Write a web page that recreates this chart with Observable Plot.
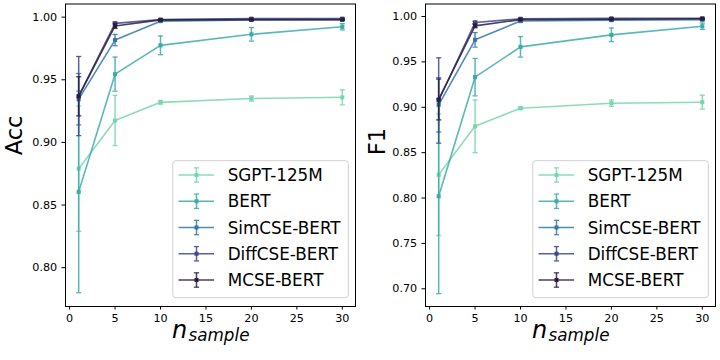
<!DOCTYPE html>
<html><head><meta charset="utf-8">
<script src="https://cdn.jsdelivr.net/npm/d3@7"></script>
<script src="https://cdn.jsdelivr.net/npm/@observablehq/plot@0.6"></script>
<style>
body{margin:0;background:#fff;}
#wrap{display:flex;width:720px;height:360px;overflow:hidden;}
svg{font-family:"DejaVu Sans";}
</style></head><body><div id="wrap"></div>
<script>
const nSample = [1, 5, 10, 20, 30];
const models = ["SGPT-125M", "BERT", "SimCSE-BERT", "DiffCSE-BERT", "MCSE-BERT"];
const colors = ["#78d6ae", "#3bacaa", "#3179a8", "#3e478c", "#2b1d3f"];

const accMean = [
  [0.879, 0.9175, 0.932, 0.935, 0.936],
  [0.8605, 0.9545, 0.9775, 0.9863, 0.9923],
  [0.9345, 0.9817, 0.9968, 0.9978, 0.998],
  [0.937, 0.995, 0.998, 0.9988, 0.9988],
  [0.9368, 0.993, 0.9978, 0.998, 0.998]
];
const accErr = [
  [0.05, 0.02, 0.0015, 0.002, 0.006],
  [0.0805, 0.0136, 0.0075, 0.0054, 0.0025],
  [0.0205, 0.0045, 0.0008, 0.0005, 0.0005],
  [0.0316, 0.0012, 0.0005, 0.0005, 0.0005],
  [0.0156, 0.002, 0.0006, 0.0005, 0.0005]
];
const f1Mean = [
  [0.8257, 0.879, 0.899, 0.9045, 0.9056],
  [0.802, 0.9332, 0.9666, 0.9798, 0.9893],
  [0.9027, 0.9743, 0.995, 0.996, 0.9965],
  [0.9075, 0.9934, 0.9975, 0.998, 0.998],
  [0.9086, 0.9897, 0.9966, 0.997, 0.9975]
];
const f1Err = [
  [0.067, 0.029, 0.0015, 0.0035, 0.0077],
  [0.1074, 0.0206, 0.0113, 0.0075, 0.0035],
  [0.030, 0.008, 0.0015, 0.001, 0.001],
  [0.047, 0.0015, 0.0008, 0.0005, 0.0005],
  [0.0225, 0.002, 0.0008, 0.0005, 0.0005]
];
const xTicks = [0, 5, 10, 15, 20, 25, 30];
const accTicks = [0.80, 0.85, 0.90, 0.95, 1.00];
const f1Ticks = [0.70, 0.75, 0.80, 0.85, 0.90, 0.95, 1.00];

function rows(mean, err) {
  return models.flatMap((m, i) => nSample.map((n, j) => ({model: m, idx: i, n, y: mean[i][j], e: err[i][j]})));
}

const capSymbol = {draw(ctx) { ctx.moveTo(-2.6, 0); ctx.lineTo(2.6, 0); }};

function panel(mean, err, yDomain, yTicks, yLabel, labelDx) {
  const data = rows(mean, err);
  const marks = [
    Plot.axisX({ticks: xTicks, tickSize: 3.5, tickPadding: 4.5, fontSize: 11.2, label: null}),
    Plot.axisY({ticks: yTicks, tickSize: 3.5, tickPadding: 4.8, fontSize: 11.2, tickFormat: d3.format(".2f"), label: null})
  ];
  models.forEach((m, i) => {
    const d = data.filter(r => r.idx === i);
    const c = colors[i];
    marks.push(Plot.line(d, {x: "n", y: "y", stroke: c, strokeWidth: 1.6, strokeOpacity: 0.85}));
    marks.push(Plot.dot(d, {x: "n", y: "y", symbol: "square", r: 2.3, fill: c, stroke: null}));
    marks.push(Plot.ruleX(d, {x: "n", y1: r => r.y - r.e, y2: r => r.y + r.e, stroke: c, strokeWidth: 1.5, strokeOpacity: 0.85}));
    marks.push(Plot.dot(d, {x: "n", y: r => r.y + r.e, symbol: capSymbol, r: 2, stroke: c, strokeWidth: 1.3, strokeOpacity: 0.85}));
    marks.push(Plot.dot(d, {x: "n", y: r => r.y - r.e, symbol: capSymbol, r: 2, stroke: c, strokeWidth: 1.3, strokeOpacity: 0.85}));
  });
  marks.push(Plot.frame({stroke: "#000", strokeWidth: 1}));
  marks.push(Plot.text([yLabel], {text: d => d, frameAnchor: "left", dx: labelDx, rotate: -90, fontSize: 22.5, fill: "#000"}));
  marks.push(Plot.text(["n"], {text: d => d, frameAnchor: "bottom", textAnchor: "start", lineAnchor: "bottom", dx: -38.5, dy: 31, fontSize: 24, fontStyle: "italic", fill: "#000"}));
  marks.push(Plot.text(["sample"], {text: d => d, frameAnchor: "bottom", textAnchor: "start", lineAnchor: "bottom", dx: -22, dy: 34.5, fontSize: 16.8, fontStyle: "italic", fill: "#000"}));
  const svg = Plot.plot({
    width: 360, height: 360,
    marginLeft: 65, marginRight: 5, marginTop: 3.5, marginBottom: 54,
    x: {domain: [-0.45, 31.45]},
    y: {domain: yDomain},
    style: {fontFamily: "DejaVu Sans", fontSize: "11.2px", color: "#000", background: "white", overflow: "visible"},
    marks
  });
  addLegend(svg);
  return svg;
}

function addLegend(svg) {
  const g = d3.select(svg).append("g").attr("text-anchor", "start");
  g.append("rect").attr("x", 172.8).attr("y", 160.7).attr("width", 175.5).attr("height", 137)
    .attr("rx", 3).attr("fill", "white").attr("fill-opacity", 0.8).attr("stroke", "#cfcfcf").attr("stroke-width", 1);
  models.forEach((m, i) => {
    const cy = 175 + i * 26.25;
    const c = colors[i];
    const h = g.append("g").attr("stroke", c).attr("stroke-opacity", 0.85).attr("fill", "none");
    h.append("line").attr("x1", 178.5).attr("x2", 214).attr("y1", cy).attr("y2", cy).attr("stroke-width", 1.6);
    h.append("line").attr("x1", 196.5).attr("x2", 196.5).attr("y1", cy - 7.2).attr("y2", cy + 7.2).attr("stroke-width", 1.5);
    h.append("line").attr("x1", 193.9).attr("x2", 199.1).attr("y1", cy - 7.2).attr("y2", cy - 7.2).attr("stroke-width", 1.3);
    h.append("line").attr("x1", 193.9).attr("x2", 199.1).attr("y1", cy + 7.2).attr("y2", cy + 7.2).attr("stroke-width", 1.3);
    g.append("rect").attr("x", 194.5).attr("y", cy - 2).attr("width", 4).attr("height", 4).attr("fill", c);
    g.append("text").attr("x", 227.7).attr("y", cy + 6).attr("font-size", 16.8).attr("fill", "#000")
      .attr("text-anchor", "start").attr("font-family", "DejaVu Sans").text(m);
  });
}

const wrap = document.getElementById("wrap");
wrap.appendChild(panel(accMean, accErr, [0.769, 1.0105], accTicks, "Acc", -50.3));
const right = panel(f1Mean, f1Err, [0.6805, 1.0138], f1Ticks, "F1", -48);
wrap.appendChild(right);
</script></body></html>
